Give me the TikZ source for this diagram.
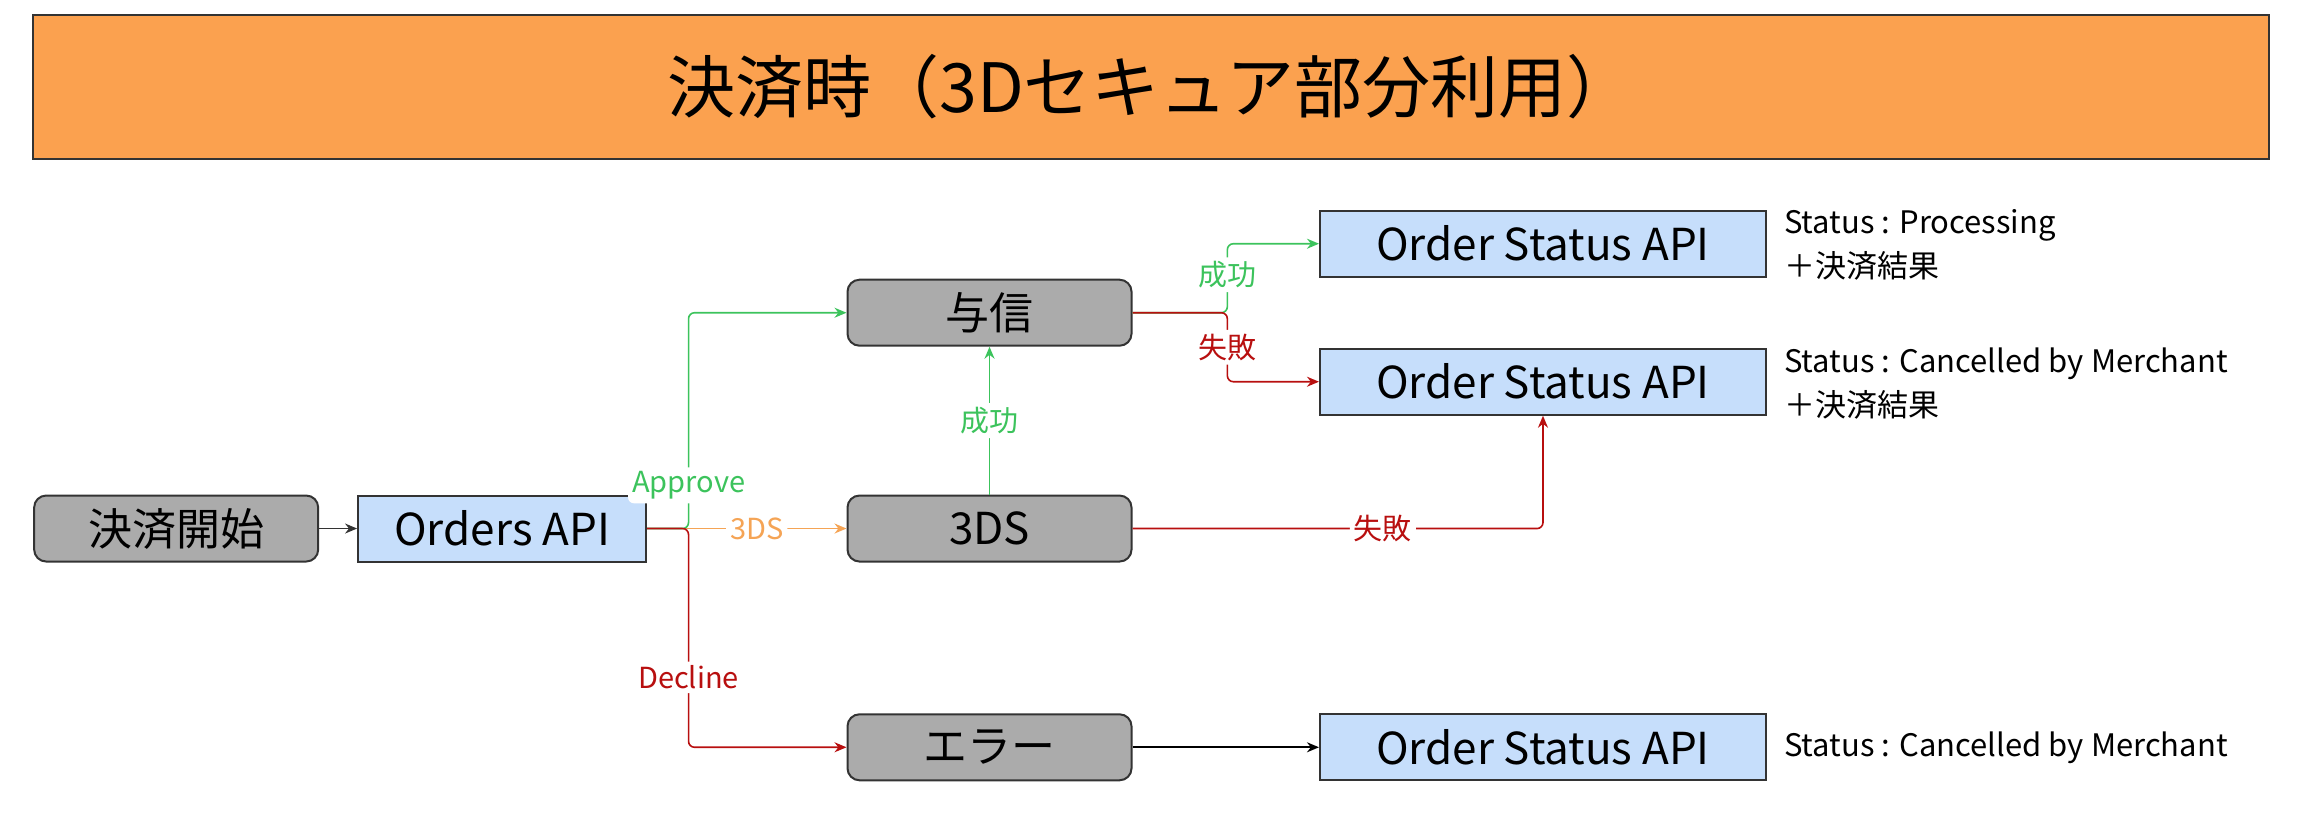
\documentclass[tikz,border=0pt]{standalone}
\usepackage{fontspec}
\setmainfont{Noto Sans CJK JP}
\usetikzlibrary{arrows.meta}
\definecolor{ttl}{HTML}{FBA14F}
\definecolor{gbox}{HTML}{ABABAB}
\definecolor{bbox}{HTML}{C6DEFB}
\definecolor{gr}{HTML}{3CC35C}
\definecolor{rd}{HTML}{B80F0F}
\definecolor{og}{HTML}{F5A455}
\begin{document}
\begin{tikzpicture}[x=0.734pt,y=-0.734pt,
  gnode/.style={draw=black!80,line width=1pt,fill=gbox,rounded corners=6pt,minimum width=142pt,minimum height=33pt,font=\fontsize{22}{24}\selectfont,inner sep=0pt},
  bnode/.style={draw=black!80,line width=1pt,fill=bbox,minimum height=33pt,font=\fontsize{22}{24}\selectfont,inner sep=0pt},
  note/.style={anchor=west,font=\fontsize{15.5}{18}\selectfont,align=left,inner sep=0pt},
  lab/.style={fill=white,font=\fontsize{14.5}{16}\selectfont,inner sep=2pt},
  arr/.style={-{Stealth[length=6pt,width=5pt]},line width=0.8pt,rounded corners=3pt}]
\useasboundingbox (0,0) rectangle (1568,556);
\node[draw=black!80,line width=1pt,fill=ttl,minimum width=1118pt,minimum height=72pt,inner sep=0pt,font=\fontsize{34}{38}\selectfont] (title) at (784,59) {決済時（3Dセキュア部分利用）};
\node[gnode] (start) at (120,360) {決済開始};
\node[bnode,minimum width=144pt] (orders) at (342,360) {Orders API};
\node[gnode] (yoshin) at (674,213) {与信};
\node[gnode] (tds) at (674,360) {3DS};
\node[gnode] (err) at (674,509) {エラー};
\node[bnode,minimum width=223pt] (osa1) at (1051,166) {Order Status API};
\node[bnode,minimum width=223pt] (osa2) at (1051,260) {Order Status API};
\node[bnode,minimum width=223pt] (osa3) at (1051,509) {Order Status API};
\node[note] (n1) at (1215,167) {Status : Processing\\[4pt]＋決済結果};
\node[note] (n2) at (1215,261) {Status : Cancelled by Merchant\\[4pt]＋決済結果};
\node[note] (n3) at (1215,509) {Status : Cancelled by Merchant};
\coordinate (sp) at (469,360);
\coordinate (sy) at (836,213);
\draw[arr,black!80] (start) -- (orders);
\draw[arr,og] (orders) -- node[lab,pos=0.55]{3DS} (tds);
\draw[arr,gr] (orders.east) -- (sp) -- node[lab,pos=0.2]{Approve} (sp |- yoshin) -- (yoshin);
\draw[arr,rd] (orders.east) -- (sp) -- node[lab,pos=0.68]{Decline} (sp |- err) -- (err);
\draw[arr,gr] (tds) -- node[lab]{成功} (yoshin);
\draw[arr,gr] (yoshin) -- (sy) -- node[lab,pos=0.55]{成功} (sy |- osa1) -- (osa1);
\draw[arr,rd] (yoshin) -- (sy) -- node[lab,pos=0.5]{失敗} (sy |- osa2) -- (osa2);
\draw[arr,rd] (tds) -- node[lab,pos=0.61]{失敗} (osa2 |- tds) -- (osa2);
\draw[arr,black] (err) -- (osa3);
\end{tikzpicture}
\end{document}
